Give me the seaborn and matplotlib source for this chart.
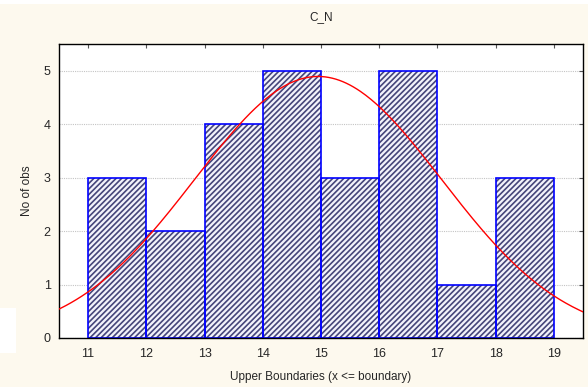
import numpy as np
import pandas as pd
import matplotlib
matplotlib.use("Agg")
import matplotlib.pyplot as plt
import seaborn as sns
from matplotlib.patches import Rectangle

# Data
bin_edges = [11, 12, 13, 14, 15, 16, 17, 18, 19]
counts = [3, 2, 4, 5, 3, 5, 1, 3]
fit_mean = 14.95
fit_sd = 2.12
title = "C_N"
xlabel = "Upper Boundaries (x <= boundary)"
ylabel = "No of obs"
xticks = [11, 12, 13, 14, 15, 16, 17, 18, 19]
yticks = [0, 1, 2, 3, 4, 5]

sns.set_style("white")
plt.rcParams['font.family'] = ['Liberation Sans', 'DejaVu Sans']
plt.rcParams['hatch.linewidth'] = 1.2

bg = '#fdf9ee'
fig = plt.figure(figsize=(5.88, 3.87), dpi=100, facecolor=bg)
ax = fig.add_axes([59/588, 1 - 338/387, (583-59)/588, (338-44)/387])
ax.set_facecolor('white')

centers = [(a + b) / 2 for a, b in zip(bin_edges[:-1], bin_edges[1:])]
df = pd.DataFrame({"x": centers, "w": counts})
# hatched fill
sns.histplot(data=df, x="x", weights="w", bins=bin_edges, ax=ax,
             color='#f2f2fb', linewidth=0, alpha=1, zorder=2)
n_fill = len(ax.patches)
for p in ax.patches:
    p.set_hatch('//////')
    p.set_facecolor('#f2f2fb')
    p.set_edgecolor('#45457a')
    p.set_linewidth(0)
# blue outlines
sns.histplot(data=df, x="x", weights="w", bins=bin_edges, ax=ax,
             fill=False, color='#0000ff', linewidth=1.2, zorder=2.5)
for p in ax.patches[n_fill:]:
    p.set_edgecolor('#0000ff')
    p.set_linewidth(1.2)

n = sum(counts)
bw = bin_edges[1] - bin_edges[0]
xs = np.linspace(10.5, 19.5, 300)
ys = n * bw / (fit_sd * np.sqrt(2 * np.pi)) * np.exp(-(xs - fit_mean) ** 2 / (2 * fit_sd ** 2))
sns.lineplot(x=xs, y=ys, ax=ax, color='#ff0000', linewidth=1.0, zorder=3)

ax.set_xlim(10.5, 19.5)
ax.set_ylim(0, 5.5)
ax.set_xticks(xticks)
ax.set_yticks(yticks)
ax.set_xticklabels([str(t) for t in xticks], fontsize=9)
ax.set_yticklabels([str(t) for t in yticks], fontsize=9)
ax.yaxis.grid(True, linestyle=(0, (1, 1)), color='#c4c4c4', linewidth=0.8, zorder=0)
ax.set_axisbelow(True)
ax.tick_params(axis='both', direction='in', length=3, width=0.8, color='#555555',
               top=True, right=True, bottom=False, left=False)
ax.tick_params(axis='x', pad=7)
ax.tick_params(axis='y', pad=6)
for s in ax.spines.values():
    s.set_color('black')
    s.set_linewidth(1.0)

ax.set_title(title, fontsize=8.5, pad=17)
ax.set_xlabel(xlabel, fontsize=8.5, labelpad=8)
ax.set_ylabel(ylabel, fontsize=8.5, labelpad=8)

fig.patches.append(Rectangle((0, 1 - 353/387), 16/588, 45/387, transform=fig.transFigure,
                             facecolor='white', edgecolor='none', zorder=0))
fig.patches.append(Rectangle((0, 1 - 4/387), 1, 4/387, transform=fig.transFigure,
                             facecolor='white', edgecolor='none', zorder=0))

fig.savefig("out.png", dpi=100, facecolor=bg)
